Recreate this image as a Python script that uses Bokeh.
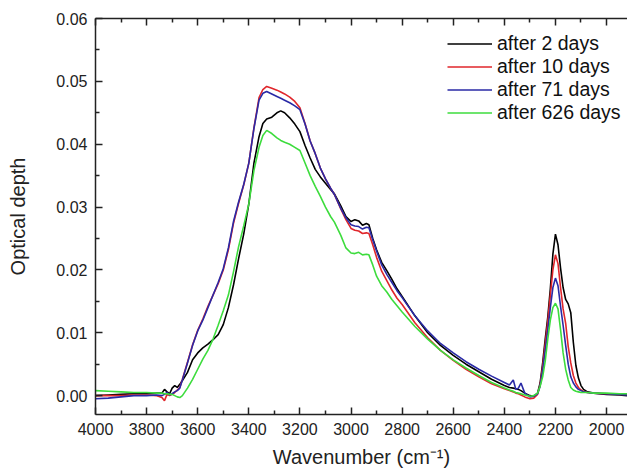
from bokeh.plotting import figure
from bokeh.models import Range1d, FixedTicker, LinearAxis, Legend, LegendItem, NumeralTickFormatter
from bokeh.embed import file_html
from bokeh.resources import INLINE

wavenumber = [4000, 3950, 3900, 3850, 3800, 3760, 3740, 3730, 3720, 3710,
              3700, 3690, 3680, 3670, 3660, 3640, 3620, 3600, 3580, 3560,
              3540, 3520, 3500, 3480, 3460, 3440, 3420, 3400, 3380, 3360,
              3345, 3330, 3310, 3290, 3275, 3260, 3240, 3220, 3200, 3180,
              3160, 3140, 3120, 3100, 3080, 3065, 3040, 3020, 3000, 2985,
              2970, 2955, 2940, 2930, 2915, 2900, 2880, 2860, 2840, 2820,
              2800, 2750, 2700, 2650, 2600, 2550, 2500, 2450, 2400, 2380,
              2365, 2355, 2345, 2335, 2320, 2300, 2285, 2270, 2260, 2250,
              2240, 2230, 2220, 2210, 2200, 2190, 2180, 2170, 2160, 2150,
              2140, 2130, 2120, 2110, 2100, 2090, 2075, 2050, 2000, 1950,
              1920]

od_2_days = [0.0000, 0.0001, 0.0002, 0.0003, 0.0003, 0.0004, 0.0004, 0.0010, 0.0006, 0.0003,
             0.0012, 0.0016, 0.0013, 0.0018, 0.0024, 0.0037, 0.0057, 0.0068, 0.0076, 0.0082,
             0.0089, 0.0097, 0.0113, 0.0140, 0.0176, 0.0218, 0.0257, 0.0305, 0.0370, 0.0412,
             0.0433, 0.0440, 0.0443, 0.0450, 0.0453, 0.0450, 0.0442, 0.0432, 0.0420, 0.0398,
             0.0378, 0.0360, 0.0348, 0.0338, 0.0328, 0.0321, 0.0302, 0.0285, 0.0277, 0.0280,
             0.0278, 0.0271, 0.0274, 0.0272, 0.0250, 0.0232, 0.0212, 0.0199, 0.0185, 0.0170,
             0.0158, 0.0127, 0.0100, 0.0080, 0.0064, 0.0050, 0.0038, 0.0026, 0.0016, 0.0013,
             0.0012, 0.0011, 0.0010, 0.0008, 0.0004, 0.0000, -0.0001, 0.0004, 0.0020, 0.0052,
             0.0090, 0.0125, 0.0170, 0.0225, 0.0257, 0.0240, 0.0203, 0.0172, 0.0153, 0.0146,
             0.0132, 0.0085, 0.0048, 0.0028, 0.0016, 0.0010, 0.0006, 0.0004, 0.0002, 0.0001,
             0.0000]

od_10_days = [0.0000, 0.0000, 0.0000, 0.0001, 0.0001, 0.0000, -0.0003, -0.0008, 0.0002, 0.0000,
              0.0002, 0.0005, 0.0009, 0.0013, 0.0026, 0.0053, 0.0081, 0.0104, 0.0122, 0.0142,
              0.0160, 0.0178, 0.0200, 0.0232, 0.0274, 0.0306, 0.0335, 0.0370, 0.0426, 0.0474,
              0.0487, 0.0492, 0.0489, 0.0486, 0.0483, 0.0480, 0.0475, 0.0468, 0.0458, 0.0433,
              0.0405, 0.0385, 0.0362, 0.0345, 0.0330, 0.0320, 0.0297, 0.0280, 0.0266, 0.0263,
              0.0262, 0.0258, 0.0259, 0.0258, 0.0240, 0.0220, 0.0198, 0.0183, 0.0168, 0.0155,
              0.0145, 0.0116, 0.0092, 0.0072, 0.0056, 0.0042, 0.0030, 0.0019, 0.0011, 0.0008,
              0.0006, 0.0004, 0.0003, 0.0001, -0.0002, -0.0005, -0.0004, 0.0002, 0.0017, 0.0046,
              0.0082, 0.0118, 0.0160, 0.0200, 0.0224, 0.0210, 0.0172, 0.0138, 0.0115, 0.0078,
              0.0052, 0.0032, 0.0020, 0.0013, 0.0009, 0.0007, 0.0005, 0.0004, 0.0003, 0.0002,
              0.0002]

od_71_days = [-0.0005, -0.0004, -0.0002, 0.0000, 0.0000, 0.0001, 0.0000, 0.0002, 0.0005, 0.0001,
              0.0003, 0.0006, 0.0008, 0.0012, 0.0025, 0.0052, 0.0080, 0.0103, 0.0120, 0.0140,
              0.0160, 0.0180, 0.0202, 0.0235, 0.0277, 0.0308, 0.0336, 0.0370, 0.0425, 0.0470,
              0.0481, 0.0484, 0.0480, 0.0476, 0.0473, 0.0470, 0.0466, 0.0461, 0.0455, 0.0432,
              0.0405, 0.0385, 0.0362, 0.0345, 0.0330, 0.0320, 0.0298, 0.0283, 0.0272, 0.0270,
              0.0269, 0.0265, 0.0268, 0.0267, 0.0248, 0.0230, 0.0208, 0.0193, 0.0180, 0.0167,
              0.0156, 0.0127, 0.0103, 0.0083, 0.0068, 0.0054, 0.0042, 0.0031, 0.0021, 0.0017,
              0.0025, 0.0010, 0.0012, 0.0020, 0.0004, -0.0002, -0.0001, 0.0003, 0.0015, 0.0040,
              0.0072, 0.0105, 0.0140, 0.0172, 0.0187, 0.0175, 0.0142, 0.0112, 0.0080, 0.0050,
              0.0030, 0.0020, 0.0014, 0.0010, 0.0008, 0.0006, 0.0005, 0.0004, 0.0003, 0.0002,
              0.0001]

od_626_days = [0.0008, 0.0007, 0.0006, 0.0005, 0.0005, 0.0004, 0.0004, 0.0003, 0.0003, 0.0002,
               0.0002, 0.0000, -0.0002, -0.0003, 0.0000, 0.0012, 0.0026, 0.0042, 0.0058, 0.0072,
               0.0090, 0.0112, 0.0135, 0.0160, 0.0197, 0.0237, 0.0270, 0.0305, 0.0358, 0.0395,
               0.0414, 0.0422, 0.0417, 0.0410, 0.0406, 0.0403, 0.0400, 0.0395, 0.0390, 0.0370,
               0.0350, 0.0333, 0.0317, 0.0300, 0.0285, 0.0276, 0.0255, 0.0235, 0.0227, 0.0226,
               0.0228, 0.0224, 0.0225, 0.0224, 0.0208, 0.0190, 0.0175, 0.0165, 0.0153, 0.0143,
               0.0133, 0.0110, 0.0090, 0.0072, 0.0057, 0.0044, 0.0032, 0.0021, 0.0012, 0.0009,
               0.0007, 0.0005, 0.0004, 0.0003, 0.0001, -0.0001, 0.0000, 0.0004, 0.0015, 0.0030,
               0.0055, 0.0090, 0.0120, 0.0140, 0.0147, 0.0138, 0.0105, 0.0068, 0.0042, 0.0025,
               0.0013, 0.0009, 0.0007, 0.0006, 0.0005, 0.0005, 0.0005, 0.0004, 0.0004, 0.0003,
               0.0003]

series_labels = ["after 2 days", "after 10 days", "after 71 days", "after 626 days"]
series_colors = ["#000000", "#e0262b", "#2a2aa6", "#3ddc3d"]

x_ticks = [4000, 3800, 3600, 3400, 3200, 3000, 2800, 2600, 2400, 2200, 2000]
x_minor = [3900, 3700, 3500, 3300, 3100, 2900, 2700, 2500, 2300, 2100, 1900]
y_ticks = [0.00, 0.01, 0.02, 0.03, 0.04, 0.05, 0.06]
y_minor = [0.005, 0.015, 0.025, 0.035, 0.045, 0.055]

FONT = "Liberation Sans"
INK = "#222222"

p = figure(width=627, height=476, output_backend="svg", toolbar_location=None,
           x_range=Range1d(4000, 1918), y_range=Range1d(-0.003, 0.06),
           x_axis_label="Wavenumber (cm\u207b\u00b9)", y_axis_label="Optical depth")
p.min_border_left = 95
p.min_border_right = 0
p.min_border_top = 18
p.min_border_bottom = 62
p.outline_line_color = None
p.grid.visible = False
p.background_fill_color = "white"
p.border_fill_color = "white"

all_series = [od_2_days, od_10_days, od_71_days, od_626_days]
renderers = []
for ys, col in zip(all_series, series_colors):
    assert len(ys) == len(wavenumber)
    r = p.line(wavenumber, ys, line_color=col, line_width=1.6)
    renderers.append(r)


def style_axis(ax):
    ax.axis_line_color = INK
    ax.axis_line_width = 1.5
    ax.major_tick_line_color = INK
    ax.minor_tick_line_color = INK
    ax.major_tick_line_width = 1.5
    ax.minor_tick_line_width = 1.5
    ax.major_tick_in = 7
    ax.major_tick_out = 0
    ax.minor_tick_in = 4
    ax.minor_tick_out = 0


for ax in (p.xaxis[0], p.yaxis[0]):
    style_axis(ax)
    ax.major_label_text_font = FONT
    ax.major_label_text_font_size = "16px"
    ax.major_label_text_color = INK
    ax.axis_label_text_font = FONT
    ax.axis_label_text_font_size = "20px"
    ax.axis_label_text_font_style = "normal"
    ax.axis_label_text_color = INK

p.xaxis[0].ticker = FixedTicker(ticks=x_ticks, minor_ticks=x_minor)
p.yaxis[0].ticker = FixedTicker(ticks=y_ticks, minor_ticks=y_minor)
p.yaxis[0].formatter = NumeralTickFormatter(format="0.00")
p.xaxis[0].major_label_standoff = 8
p.yaxis[0].major_label_standoff = 8
p.xaxis[0].axis_label_standoff = 8
p.yaxis[0].axis_label_standoff = 24

top = LinearAxis(ticker=FixedTicker(ticks=x_ticks, minor_ticks=x_minor))
style_axis(top)
top.major_label_text_font_size = "0px"
top.major_label_text_color = None
top.major_label_standoff = 0
p.add_layout(top, "above")

legend = Legend(items=[LegendItem(label=l, renderers=[r]) for l, r in zip(series_labels, renderers)],
                location=(352, 290))
legend.border_line_color = None
legend.background_fill_alpha = 0
legend.padding = 0
legend.margin = 0
legend.spacing = 0
legend.glyph_width = 45
legend.glyph_height = 23
legend.label_height = 23
legend.label_standoff = 5
legend.label_text_font = FONT
legend.label_text_font_size = "19.5px"
legend.label_text_color = "#111111"
p.add_layout(legend, "center")

open("out.html", "w").write(file_html(p, INLINE))
